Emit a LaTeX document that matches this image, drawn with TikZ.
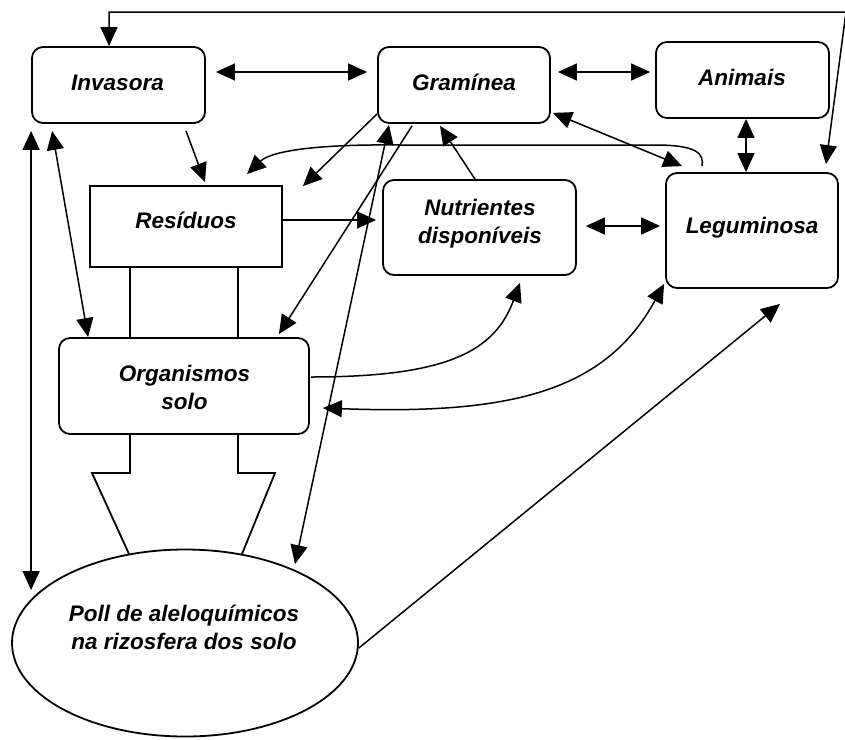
\documentclass[tikz,border=0pt]{standalone}
\usepackage{fontspec}
\setmainfont{Liberation Sans}
\usetikzlibrary{arrows.meta,shapes.geometric,calc}
\begin{document}
\begin{tikzpicture}[x=1pt,y=-1pt,
  >={Triangle[length=19pt,width=17pt]},
  txt/.style={font=\fontsize{22.5}{28}\selectfont\bfseries\itshape, align=center, inner sep=0pt},
  rbox/.style={draw, line width=1.8pt, rounded corners=11pt, inner sep=0pt},
  sbox/.style={draw, line width=1.8pt, inner sep=0pt},
  pool/.style={draw, line width=1.8pt, ellipse, inner sep=0pt},
  conn/.style={line width=1.5pt},
  wall/.style={line width=1.8pt}]
\useasboundingbox (0,0) rectangle (845,739);

% boxes
\node[rbox, minimum width=173pt, minimum height=76pt] (inv)  at (118.5,85) {};
\node[rbox, minimum width=172pt, minimum height=76pt] (gram) at (464,85) {};
\node[rbox, minimum width=173pt, minimum height=76pt] (anim) at (742.5,80) {};
\node[sbox, minimum width=192pt, minimum height=81pt] (res)  at (186,226.5) {};
\node[rbox, minimum width=193pt, minimum height=95pt] (nutr) at (479.5,227.5) {};
\node[rbox, minimum width=172pt, minimum height=115pt] (leg) at (752,230.5) {};
\node[rbox, minimum width=250pt, minimum height=96pt] (org)  at (184,386) {};
\node[pool, minimum width=346pt, minimum height=187pt] (pool) at (185,643) {};

% labels
\node[txt, anchor=base] (invT)  at (117.5,90) {Invasora};
\node[txt, anchor=base] (gramT) at (464,90) {Gramínea};
\node[txt, anchor=base] (animT) at (742,85) {Animais};
\node[txt, anchor=base] (resT)  at (186,228) {Resíduos};
\node[txt] (nutrT) at (480,223.4) {Nutrientes\\disponíveis};
\node[txt, anchor=base] (legT)  at (752,233) {Leguminosa};
\node[txt] (orgT)  at (184.5,387) {Organismos\\solo};
\node[txt] (poolT) at (184,627) {Poll de aleloquímicos\\na rizosfera dos solo};

% Resíduos feeding Organismos solo
\draw[wall] ($(res.south)+(-56,0)$) -- ($(org.north)+(-54,0)$);
\draw[wall] ($(res.south)+(52,0)$) -- ($(org.north)+(54,0)$);

% wide arrow from Organismos solo into the pool
\draw[wall] ($(org.south)+(-54,0)$) -- (130,473) -- (92,473) -- (129,554);
\draw[wall] ($(org.south)+(54,0)$) -- (238,473) -- (275,473) -- (242,554);

% connectors
\coordinate (ne) at (846,12);
\draw[conn,<->] ($(inv.east)+(10,-13)$) -- ($(gram.west)+(-10,-13)$);
\draw[conn,<->] ($(gram.east)+(7,-13)$) -- ($(anim.west)+(-5,-8)$);
\draw[conn,<->] ($(anim.south)+(3.5,0)$) -- ($(leg.north)+(-6,0)$);
\draw[conn,<->] ($(inv.north)+(-9.5,0)$) |- (ne) -- ($(leg.north east)+(-13,-8)$);
\draw[conn,->] ($(inv.south)+(67.5,7)$) -- ($(res.north)+(19,-3)$);
\draw[conn,->] ($(leg.north)+(-50,-6)$) .. controls (704,154) and (698,145) .. (655,145)
  -- (400,145) .. controls (310,144) and (270,152) .. ($(res.north)+(61,-11)$);
\draw[conn,->] ($(gram.south west)+(0,-10)$) -- ($(res.north east)+(20,1)$);
\draw[conn,<->] ($(gram.south east)+(2,-11)$) -- ($(leg.north west)+(17,-6)$);
\draw[conn,->] ($(nutr.north)+(-4.5,0)$) -- ($(gram.south)+(-24,2)$);
\draw[conn,->] ($(res.east)+(0,-6.5)$) -- ($(nutr.west)+(-6,-7.5)$);
\draw[conn,<->] ($(nutr.east)+(9,-1.5)$) -- ($(leg.west)+(-5,-4.5)$);
\draw[conn,->] ($(gram.south)+(-52,2)$) -- ($(org.north east)+(-31,-3)$);
\draw[conn,<->] ($(pool.north)+(110,15.5)$) -- ($(gram.south)+(-75,1)$);
\draw[conn,->] ($(org.east)+(1,-9)$) .. controls (450,377) and (495,350) .. ($(nutr.south)+(40.5,7)$);
\draw[conn,<->] ($(org.east)+(13,22)$) .. controls (510,415) and (605,392) .. ($(leg.south west)+(-1,-5)$);
\draw[conn,->] ($(pool.east)+(0,5)$) -- ($(leg.south)+(28,15)$);
\draw[conn,<->] ($(inv.south west)+(0,7)$) -- ($(pool.west)+(20,-53)$);
\draw[conn,<->] ($(inv.south west)+(21,7)$) -- ($(org.north west)+(30,0)$);
\end{tikzpicture}
\end{document}
